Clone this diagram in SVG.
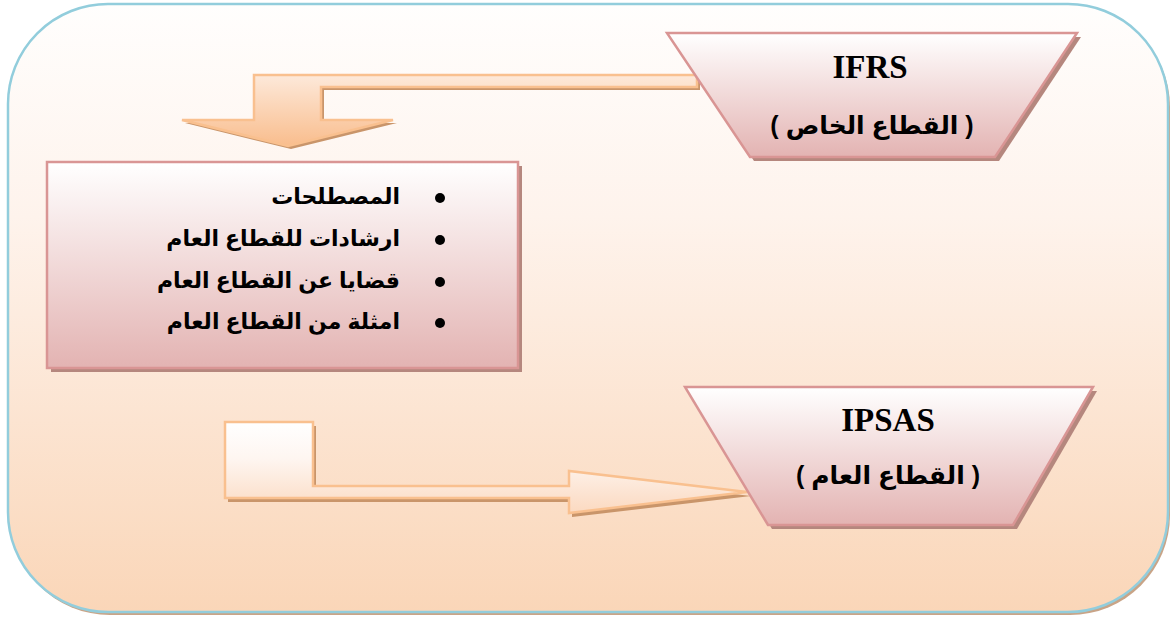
<svg xmlns="http://www.w3.org/2000/svg" width="1170" height="619" viewBox="0 0 1170 619">
<defs>
<linearGradient id="bg" x1="0" y1="0" x2="0" y2="1">
<stop offset="0" stop-color="#fffefd"/>
<stop offset="0.35" stop-color="#fef3ec"/>
<stop offset="1" stop-color="#fad6b8"/>
</linearGradient>
<linearGradient id="pink" x1="0" y1="0" x2="0" y2="1">
<stop offset="0" stop-color="#ffffff"/>
<stop offset="1" stop-color="#e3b3b2"/>
</linearGradient>
<linearGradient id="orange" x1="0" y1="0" x2="0" y2="1">
<stop offset="0" stop-color="#fde9da"/>
<stop offset="1" stop-color="#f9bd8d"/>
</linearGradient>
<linearGradient id="box2" x1="0" y1="0" x2="0" y2="1">
<stop offset="0" stop-color="#ffffff"/>
<stop offset="0.4" stop-color="#fef6f1"/>
<stop offset="1" stop-color="#fbd9c0"/>
</linearGradient>
</defs>
<style>
.pinkshape{fill:url(#pink);stroke:#d99594;stroke-width:2.5}
.pinkshadow{fill:#b5877e}
.arrow{stroke:#f9c08f;stroke-width:2.5;stroke-linejoin:miter}
.arrowshadow{fill:#c9956a}
.latin{font-family:"Liberation Serif","Times New Roman",serif;font-weight:bold;font-size:33px;fill:#000}
.ar{font-family:"Liberation Sans",Arial,"DejaVu Sans",sans-serif;font-weight:bold;fill:#000}
.bullet{fill:#000}
</style>

<g id="background">
<rect x="10" y="7" width="1160" height="608" rx="100" ry="100" fill="#c9a487"/>
<rect x="8" y="4" width="1160" height="608" rx="100" ry="100" fill="url(#bg)" stroke="#92cddc" stroke-width="2.5"/>
</g>

<g id="connectors">
<g id="arrow-top">
<path class="arrowshadow" d="M700,78 L257,78 L257,123 L185,123 L291,149 L397,123 L324,123 L324,90 L700,90 Z"/>
<path class="arrow" fill="url(#orange)" d="M697,75 L254,75 L254,120 L182,120 L288,146 L393,120 L321,120 L321,87 L697,87 Z"/>
</g>
<g id="arrow-bottom">
<path class="arrowshadow" d="M228,426 L316,426 L316,490 L572,490 L572,475 L751,496 L572,517 L572,502 L228,502 Z"/>
<path class="arrow" fill="url(#box2)" d="M225,422 L313,422 L313,486 L569,486 L569,471 L747,492 L569,513 L569,498 L225,498 Z"/>
</g>
</g>

<g id="node-ifrs">
<polygon class="pinkshadow" points="671,37 1081,37 999,161 754,161"/>
<polygon class="pinkshape" points="667,33 1077,33 995,157 750,157"/>
<text class="latin" x="870" y="78" text-anchor="middle">IFRS</text>
<text class="ar" x="872" y="134" font-size="25" text-anchor="middle">( القطاع الخاص )</text>
</g>

<g id="node-list">
<rect class="pinkshadow" x="51" y="166" width="471" height="206"/>
<rect class="pinkshape" x="47" y="162" width="471" height="206"/>
<circle class="bullet" cx="440" cy="198" r="5"/>
<circle class="bullet" cx="440" cy="240" r="5"/>
<circle class="bullet" cx="440" cy="282" r="5"/>
<circle class="bullet" cx="440" cy="323" r="5"/>
<text class="ar" x="400" y="204" font-size="22" text-anchor="end">المصطلحات</text>
<text class="ar" x="400" y="246" font-size="22" text-anchor="end">ارشادات للقطاع العام</text>
<text class="ar" x="400" y="288" font-size="22" text-anchor="end">قضايا عن القطاع العام</text>
<text class="ar" x="400" y="329" font-size="22" text-anchor="end">امثلة من القطاع العام</text>
</g>

<g id="node-ipsas">
<polygon class="pinkshadow" points="689,391 1097,391 1017,529 772,529"/>
<polygon class="pinkshape" points="685,387 1093,387 1013,525 768,525"/>
<text class="latin" x="888" y="431" text-anchor="middle">IPSAS</text>
<text class="ar" x="888" y="484" font-size="25" text-anchor="middle">( القطاع العام )</text>
</g>
</svg>
